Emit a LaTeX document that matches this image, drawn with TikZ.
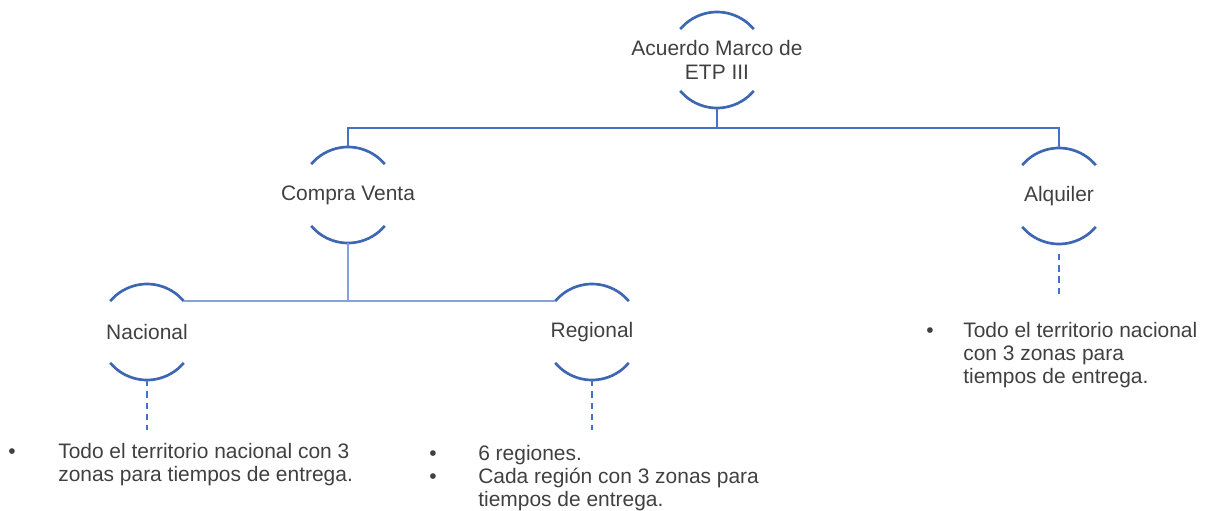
\documentclass[tikz,border=0pt]{standalone}
\usepackage{fontspec}
\setmainfont{Liberation Sans}
\usepackage{tikz}
\usetikzlibrary{positioning}
\definecolor{arcblue}{RGB}{61,103,178}
\definecolor{lineblue}{RGB}{68,114,196}
\definecolor{paleblue}{RGB}{132,161,216}
\definecolor{txtgray}{RGB}{64,64,64}

\begin{document}
\begin{tikzpicture}[
    ring/.style={circle, minimum size=2.4cm, inner sep=0pt, outer sep=0pt},
    arcline/.style={arcblue, line width=1.9pt},
    link/.style={lineblue, line width=1.5pt},
    sublink/.style={paleblue, line width=1.5pt},
    dashline/.style={lineblue, line width=1.1pt, dash pattern=on 4.5pt off 3.5pt},
    txt/.style={text=txtgray, font=\fontsize{14.9pt}{16.6pt}\selectfont, inner sep=0pt, align=center},
    item/.style={text=txtgray, font=\fontsize{14.9pt}{16.3pt}\selectfont, inner sep=0pt, align=left, anchor=base west},
    dot/.style={text=txtgray, font=\fontsize{14.9pt}{16.3pt}\selectfont, inner sep=0pt, anchor=base}
]
\useasboundingbox (0,0) rectangle (30.125,-12.75);

% rings
\node[ring] (acu) at (17.925,-1.5) {};
\node[ring] (cv) at (8.7,-4.875) {};
\node[ring] (alq) at (26.475,-4.9) {};
\node[ring] (nac) at (3.675,-8.3) {};
\node[ring] (reg) at (14.8,-8.3) {};

\foreach \n in {acu,cv,alq,nac,reg} {
  \draw[arcline] (\n.40) arc (40:140:1.2);
  \draw[arcline] (\n.220) arc (220:320:1.2);
}

\node[txt] (acu-t) at (acu) {Acuerdo Marco de\\ETP III};
\node[txt] (cv-t) at (cv) {Compra Venta};
\node[txt] (alq-t) at (alq) {Alquiler};
\node[txt] (nac-t) at (nac) {Nacional};
\node[txt] (reg-t) at (reg) {Regional};

% tree
\draw[link] (acu.south) -- ++(0,-0.5) coordinate (acu-j);
\draw[link] (acu-j) -| (cv.north);
\draw[link] (acu-j) -| (alq.north);
\draw[sublink] (cv.south) |- (nac.40);
\draw[sublink] (cv.south) |- (reg.140);

\draw[dashline] (nac.south) -- ++(0,-1.25);
\draw[dashline] (reg.south) -- ++(0,-1.25);
\draw[dashline] ([yshift=-0.25cm]alq.south) -- ++(0,-1.1);

% lists (base = last line)
\node[dot] (nac-b) at (0.3,-11.45) {•};
\node[item] (nac-l) at (1.45,-12.025) {Todo el territorio nacional con 3\\zonas para tiempos de entrega.};

\node[dot] (reg-b1) at (10.825,-11.5) {•};
\node[dot] (reg-b2) at (10.825,-12.075) {•};
\node[item] (reg-l) at (11.95,-12.65) {6 regiones.\\Cada región con 3 zonas para\\tiempos de entrega.};

\node[dot] (alq-b) at (23.25,-8.425) {•};
\node[item] (alq-l) at (24.075,-9.575) {Todo el territorio nacional\\con 3 zonas para\\tiempos de entrega.};
\end{tikzpicture}
\end{document}
